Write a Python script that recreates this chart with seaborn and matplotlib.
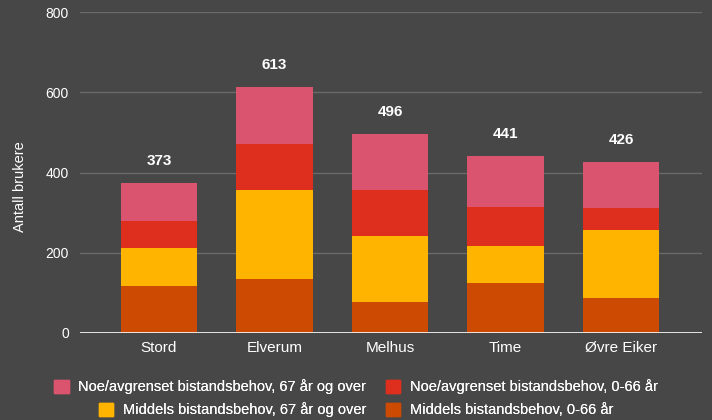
import numpy as np
import pandas as pd
import seaborn as sns
import matplotlib.pyplot as plt
from matplotlib.patches import Patch

kommuner = ['Stord', 'Elverum', 'Melhus', 'Time', 'Øvre Eiker']
middels_0_66 = [116, 135, 77, 125, 88]
middels_67 = [96, 221, 165, 92, 169]
noe_0_66 = [67, 114, 115, 98, 55]
noe_67 = [94, 143, 139, 126, 114]
totals = [373, 613, 496, 441, 426]

series = ['Middels bistandsbehov, 0-66 år', 'Middels bistandsbehov, 67 år og over',
          'Noe/avgrenset bistandsbehov, 0-66 år', 'Noe/avgrenset bistandsbehov, 67 år og over']
colors = ['#cc4a02', '#ffb400', '#de2f1e', '#da536f']
bg = '#474747'

sns.set_theme(style='dark')
plt.rcParams['font.family'] = ['Liberation Sans', 'DejaVu Sans']

fig = plt.figure(figsize=(7.12, 4.2), dpi=100, facecolor=bg)
ax = fig.add_axes([80/712, 1 - 333/420, 622/712, 321/420])
ax.set_facecolor(bg)

df = pd.DataFrame({'kommune': kommuner, 'a': middels_0_66, 'b': middels_67,
                   'c': noe_0_66, 'd': noe_67})
cum = df[['a', 'b', 'c', 'd']].cumsum(axis=1)

# draw cumulative heights from the top down so each layer covers the one above it
for col, color in zip(['d', 'c', 'b', 'a'], colors[::-1]):
    sns.barplot(x=df['kommune'], y=cum[col], color=color, width=0.66,
                saturation=1, ax=ax, zorder=3, linewidth=0, edgecolor='none')

for i, t in enumerate(totals):
    ax.text(i, t + 37, str(t), ha='center', va='bottom', color='white',
            fontsize=11, fontweight='bold')

ax.set_xlim(-0.684, 4.70)
ax.set_ylim(0, 800)
ax.set_yticks([0, 200, 400, 600, 800])
ax.grid(axis='y', color='#6a6a6a', linewidth=1, zorder=0)
ax.grid(axis='x', visible=False)
ax.axhline(0, color='white', linewidth=1.2, zorder=4)
for s in ax.spines.values():
    s.set_visible(False)
ax.tick_params(axis='both', colors='white', length=0)
ax.tick_params(axis='y', pad=8, labelsize=10)
ax.tick_params(axis='x', pad=6, labelsize=11)
ax.set_xlabel('')
ax.set_ylabel('Antall brukere', color='white', fontsize=10.5)
ax.yaxis.set_label_coords(-53/622, 0.455)

# one legend per row, each centred, like the reference
rows = [([Patch(color=colors[3]), Patch(color=colors[2])], [series[3], series[2]], 387),
        ([Patch(color=colors[1]), Patch(color=colors[0])], [series[1], series[0]], 410)]
for h, l, yc in rows:
    leg = fig.legend(h, l, ncol=2, loc='center', bbox_to_anchor=(0.5, 1 - yc/420),
                     frameon=False, fontsize=10.5, labelcolor='white',
                     handlelength=1.0, handleheight=1.0, columnspacing=1.35,
                     handletextpad=0.65, borderpad=0)
    fig.add_artist(leg)

fig.savefig('out.png', dpi=100, facecolor=bg)
